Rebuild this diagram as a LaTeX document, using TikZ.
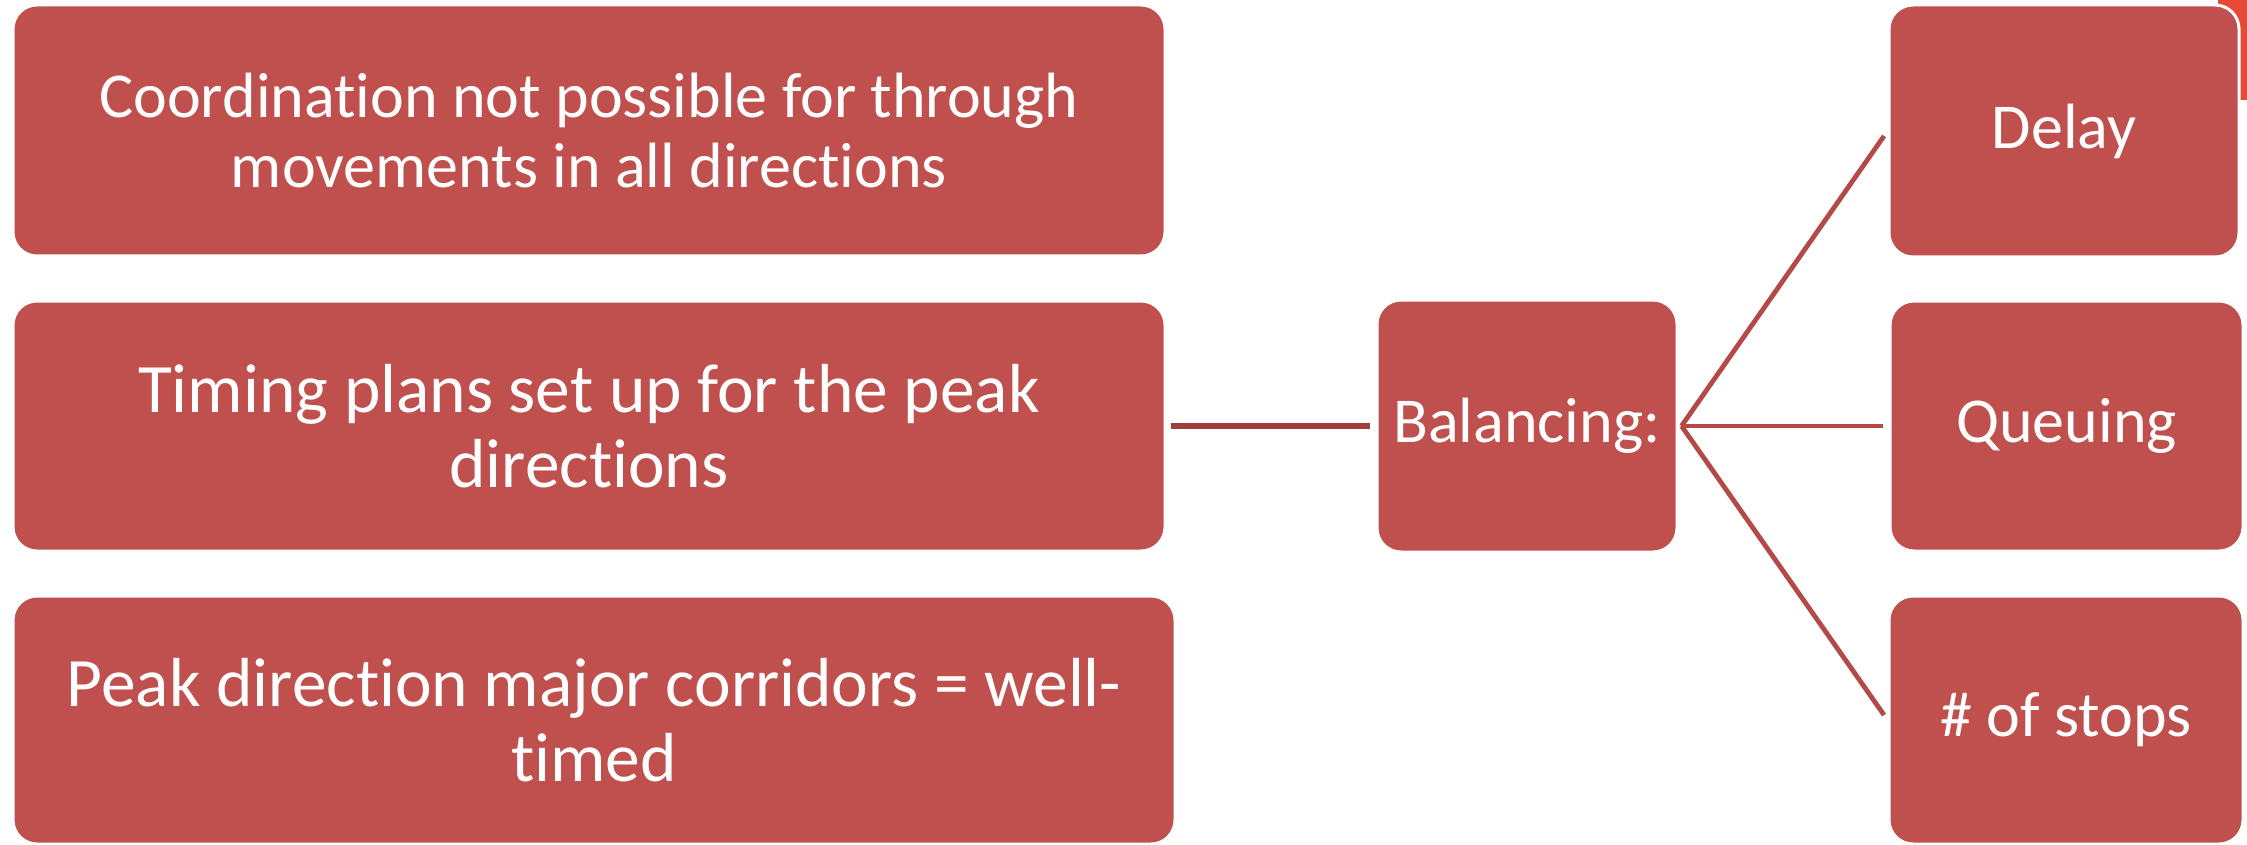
\documentclass[tikz,border=0pt]{standalone}
\usepackage{fontspec}
\setmainfont{Carlito}[Ligatures=NoCommon]
\usepackage{tikz}
\usetikzlibrary{positioning}

\definecolor{boxred}{HTML}{C0504D}
\definecolor{linkdark}{HTML}{9E3F3C}
\definecolor{linkred}{HTML}{B44A47}
\definecolor{edgeorange}{HTML}{E64A36}

\tikzset{
  itembox/.style={draw=white, line width=1.5pt, fill=boxred, rounded corners=12pt,
    text=white, align=center, inner sep=0pt, font=\fontsize{32}{35}\selectfont},
  bigtext/.style={font=\fontsize{34.7}{37.5}\selectfont},
  link/.style={linkred, line width=2.4pt},
}

\begin{document}
\begin{tikzpicture}[x=0.5pt, y=-0.5pt]
  \useasboundingbox (0,0) rectangle (2247,845);

  % 1. the clipped shape at the top right corner
  \begin{scope}
    \clip (0,0) rectangle (2247,845);
    \fill[edgeorange, rounded corners=10pt] (2218,-60) rectangle (2320,100);
  \end{scope}

  % 2. left column
  \node[itembox, minimum width=576pt, minimum height=125.5pt] (coord) at (589,130.5)
    {Coordination not possible for through\\movements in all directions};
  \node[itembox, bigtext, minimum width=576pt, minimum height=125pt] (timing) at (589,426)
    {Timing plans set up for the peak\\directions};
  \node[itembox, bigtext, minimum width=581pt, minimum height=124pt] (peak) at (594,720)
    {Peak direction major corridors = well-\\timed};

  % 3. middle and right column
  \node[itembox, minimum width=150pt, minimum height=126pt] (bal) at (1527,426) {Balancing:};
  \node[itembox, minimum width=175pt, minimum height=126pt] (delay) at (2064,131) {Delay};
  \node[itembox, minimum width=176.5pt, minimum height=125pt] (queue) at (2066.5,426) {Queuing};
  \node[itembox, minimum width=177pt, minimum height=124pt] (stops) at (2066,720) {\# of stops};

  % 4. connectors
  \draw[linkdark, line width=2.8pt, shorten <=2pt, shorten >=3pt] (timing.east) -- (bal.west);
  \coordinate (fan) at ([xshift=1.5pt]bal.east);
  \draw[link, shorten >=3pt] (fan) -- (delay.west);
  \draw[link, shorten >=3pt] (fan) -- (queue.west);
  \draw[link, shorten >=3pt] (fan) -- (stops.west);
\end{tikzpicture}
\end{document}
